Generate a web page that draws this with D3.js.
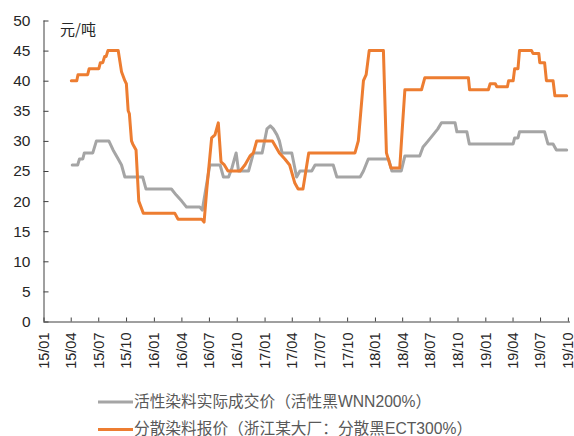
<!DOCTYPE html>
<html>
<head>
<meta charset="utf-8">
<script src="https://cdn.jsdelivr.net/npm/d3@7"></script>
<style>
  html, body { margin: 0; padding: 0; background: #fff; }
  svg { display: block; }
</style>
</head>
<body>
<svg id="chart" width="574" height="436"></svg>
<script>
// Quarterly tick labels along the time axis
const tickLabels = ["15/01","15/04","15/07","15/10","16/01","16/04","16/07","16/10",
  "17/01","17/04","17/07","17/10","18/01","18/04","18/07","18/10","19/01","19/04","19/07","19/10"];
const yTicks = [0, 5, 10, 15, 20, 25, 30, 35, 40, 45, 50];

// 活性染料实际成交价（活性黑WNN200%）, 元/吨
const reactiveDates = ["2015-04-06","2015-04-24","2015-04-30","2015-05-11","2015-05-16","2015-06-13","2015-06-25",
  "2015-08-05","2015-08-19","2015-09-05","2015-09-16","2015-09-27","2015-11-25","2015-12-06","2016-02-28",
  "2016-03-15","2016-04-02","2016-04-18","2016-06-01","2016-06-09","2016-07-04","2016-08-07","2016-08-18",
  "2016-09-04","2016-09-15","2016-09-29","2016-10-07","2016-11-09","2016-11-20","2016-11-25","2016-12-24",
  "2017-01-09","2017-01-20","2017-01-30","2017-02-11","2017-02-19","2017-02-28","2017-04-01","2017-04-17",
  "2017-04-28","2017-06-06","2017-06-17","2017-08-16","2017-08-28","2017-11-13","2017-11-24","2017-12-10",
  "2018-02-15","2018-02-26","2018-03-29","2018-04-10","2018-05-29","2018-06-09","2018-06-26","2018-07-12",
  "2018-07-28","2018-08-09","2018-09-23","2018-09-29","2018-11-01","2018-11-09","2019-04-03","2019-04-08",
  "2019-04-19","2019-04-24","2019-07-16","2019-07-27","2019-08-13","2019-08-24","2019-09-27"];
const reactiveValues = [26,26,27,27,28,28,30,
  30,28.5,27,26,24,24,22,22,
  21,20,19,19,18.5,26,26,24,
  24,25.5,28,25,25,27,28,28,
  32,32.5,32,31,30,28,28,24,
  25,25,26,26,24,24,25,27,
  27,25,25,27.5,27.5,29,30,31,
  32,33,33,31.5,31.5,29.5,29.5,30.5,
  30.5,31.5,31.5,29.5,29.5,28.5,28.5];

// 分散染料报价（浙江某大厂：分散黑ECT300%）, 元/吨
const disperseDates = ["2015-04-03","2015-04-21","2015-04-25","2015-05-27","2015-06-01","2015-07-03","2015-07-08",
  "2015-07-16","2015-07-22","2015-07-27","2015-08-02","2015-09-05","2015-09-16","2015-09-27","2015-10-02",
  "2015-10-08","2015-10-12","2015-10-19","2015-10-23","2015-11-03","2015-11-12","2015-11-27","2016-03-10",
  "2016-03-21","2016-06-07","2016-06-15","2016-06-24","2016-07-10","2016-07-21","2016-08-01","2016-08-10",
  "2016-08-21","2016-09-02","2016-10-12","2016-10-28","2016-11-14","2016-11-25","2016-12-06","2017-01-27",
  "2017-02-19","2017-03-09","2017-03-25","2017-04-11","2017-04-22","2017-05-08","2017-05-27","2017-10-27",
  "2017-11-07","2017-11-24","2017-12-03","2017-12-13","2018-01-29","2018-02-08","2018-02-23","2018-03-24",
  "2018-04-02","2018-04-10","2018-06-04","2018-06-15","2018-11-06","2018-11-10","2019-01-11","2019-01-17",
  "2019-02-03","2019-02-08","2019-03-15","2019-03-19","2019-04-03","2019-04-08","2019-04-19","2019-04-24",
  "2019-06-03","2019-06-08","2019-06-27","2019-06-30","2019-07-16","2019-07-22","2019-08-13","2019-08-19",
  "2019-09-27"];
const disperseValues = [40,40,41,41,42,42,43,
  43,44,44,45,45,41.5,40,39.5,
  35,34.5,30,29.5,28.5,20,18,18,
  17,17,16.5,22,30.5,31,33,26.5,
  26,25,25,26,27.5,28,30,30,
  28,27,26,23,22,22,28,28,
  30,40,41,45,45,28,25.5,25.5,
  32.5,38.5,38.5,40.5,40.5,38.5,38.5,39.5,
  39.5,39,39,40,40,42,42,45,
  45,44.5,44.5,43,43,40,40,37.5,
  37.5];

const legendLabels = ["活性染料实际成交价（活性黑WNN200%）", "分散染料报价（浙江某大厂：分散黑ECT300%）"];
const unitLabel = "元/吨";

const parseDay = d3.timeParse("%Y-%m-%d");
const parseTick = d3.timeParse("%y/%m");

const svg = d3.select("#chart");
const plotLeft = 43.5, plotRight = 570, plotTop = 20.5, plotBottom = 321.5;

const x = d3.scaleTime()
  .domain([parseDay("2015-01-01"), parseDay("2019-10-08")])
  .range([plotLeft, plotRight]);
const y = d3.scaleLinear().domain([0, 50]).range([plotBottom, plotTop]);

const axisColor = "#404040";
const textColor = "#262626";
const latin = "'Liberation Sans', Arial, 'Noto Sans CJK SC', sans-serif";

// Y axis with inward ticks
const yAxis = svg.append("g")
  .attr("transform", `translate(${plotLeft},0)`)
  .call(d3.axisRight(y).tickValues(yTicks).tickSize(5).tickFormat(d3.format("d")));
yAxis.select(".domain").attr("stroke", axisColor).attr("d", `M0.5,${plotTop}V${plotBottom}`);
yAxis.selectAll(".tick line").attr("stroke", axisColor);
yAxis.selectAll(".tick text")
  .attr("x", -13).attr("text-anchor", "end")
  .attr("fill", textColor).style("font-family", latin).style("font-size", "15.5px");

// X axis with inward ticks and vertical labels
const tickDates = tickLabels.map(parseTick);
const xAxis = svg.append("g")
  .attr("transform", `translate(0,${plotBottom})`)
  .call(d3.axisTop(x).tickValues(tickDates).tickSize(4).tickFormat((d, i) => tickLabels[i]));
xAxis.select(".domain").attr("stroke", axisColor).attr("d", `M${plotLeft},0.5H${plotRight}`);
xAxis.selectAll(".tick line").attr("stroke", axisColor);
xAxis.selectAll(".tick text")
  .attr("transform", "rotate(-90)")
  .attr("x", -11).attr("y", 0).attr("dy", "0.34em")
  .attr("text-anchor", "end")
  .attr("fill", textColor).style("font-family", latin).style("font-size", "14.5px");

// Unit label
svg.append("text")
  .attr("x", 60).attr("y", 34.5)
  .attr("fill", textColor)
  .style("font-family", "'Noto Sans CJK SC', sans-serif").style("font-size", "15px")
  .text(unitLabel);

const line = d3.line()
  .x(d => x(d[0]))
  .y(d => y(d[1]));

const reactive = reactiveDates.map((d, i) => [parseDay(d), reactiveValues[i]]);
const disperse = disperseDates.map((d, i) => [parseDay(d), disperseValues[i]]);
const colors = ["#A5A5A5", "#ED7D31"];

[reactive, disperse].forEach((series, i) => {
  svg.append("path")
    .datum(series)
    .attr("fill", "none")
    .attr("stroke", colors[i])
    .attr("stroke-width", 3)
    .attr("stroke-linejoin", "round")
    .attr("stroke-linecap", "round")
    .attr("d", line);
});

// Legend
const legend = svg.append("g");
legendLabels.forEach((label, i) => {
  const ly = 402 + i * 27.5;
  legend.append("line")
    .attr("x1", 98).attr("x2", 133).attr("y1", ly).attr("y2", ly)
    .attr("stroke", colors[i]).attr("stroke-width", 3);
  legend.append("text")
    .attr("x", 134).attr("y", ly).attr("dy", "0.3em")
    .attr("fill", "#595959")
    .style("font-family", latin).style("font-size", "15.7px")
    .text(label);
});
</script>
</body>
</html>
